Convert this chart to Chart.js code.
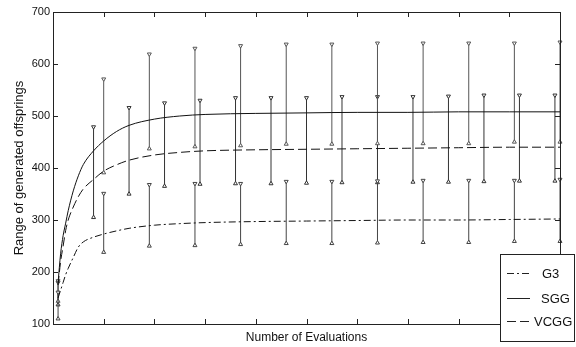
<!DOCTYPE html>
<html>
<head>
<meta charset="utf-8">
<script src="https://cdn.jsdelivr.net/npm/chart.js@4.4.1/dist/chart.umd.min.js"></script>
<style>
    html, body { margin: 0; padding: 0; background: #fff; }
    #wrap { position: relative; width: 576px; height: 347px; }
</style>
</head>
<body>
<div id="wrap"><canvas id="rangeChart"></canvas></div>
<script>
// 平均値の曲線（評価回数ごと）
const evalSteps = [10, 15, 20, 25, 30, 40, 50, 60, 80, 100, 125, 150, 200, 250, 300, 400, 500, 600, 700, 800, 900, 1000];
const g3Mean   = [150, 165, 180, 195, 207, 228, 248, 258, 267, 273, 279, 284, 290, 293, 295, 297, 298, 299, 300, 300, 301, 302];
const sggMean  = [180, 235, 270, 294, 318, 356, 385, 407, 433, 452, 470, 482, 494, 500, 503, 505, 506, 507, 507, 508, 508, 508];
const vcggMean = [175, 220, 250, 280, 300, 325, 345, 360, 378, 394, 406, 415, 425, 430, 433, 435, 436, 437, 438, 439, 440, 440];

// 範囲バー（最小〜最大）
const g3BarX  = [10, 100, 190, 280, 370, 460, 550, 640, 730, 820, 910, 1000];
const g3Max   = [161, 351, 368, 370, 370, 374, 374, 375, 376, 376, 376, 378];
const g3Min   = [110, 238, 250, 251, 253, 255, 255, 256, 257, 257, 259, 259];
const sggBarX = [10, 100, 190, 280, 370, 460, 550, 640, 730, 820, 910, 1000];
const sggMax  = [183, 571, 619, 630, 635, 638, 638, 640, 640, 640, 640, 642];
const sggMin  = [144, 391, 437, 441, 443, 446, 446, 447, 447, 447, 450, 450];
const vcggBarX = [10, 80, 150, 220, 290, 360, 430, 500, 570, 640, 710, 780, 850, 920, 990];
const vcggMax  = [180, 479, 516, 525, 530, 535, 535, 535, 537, 537, 537, 538, 540, 540, 540];
const vcggMin  = [137, 305, 350, 365, 369, 370, 370, 371, 372, 372, 373, 373, 374, 375, 375];

// 軸の目盛り
const yTicks = [100, 200, 300, 400, 500, 600, 700];
const xRange = [0, 1000];
const xStep = 100;

const seriesNames = ['G3', 'SGG', 'VCGG'];
const lineDashes = [[7, 3, 2, 3], [], [9, 4]];

const FONT = 'Liberation Sans, Arial, Helvetica, sans-serif';

// 曲線データ
function curveData(values) {
    return evalSteps.map((x, i) => ({ x: x, y: values[i] }));
}

// バー用データ：下端・上端・区切り(null)
function barData(xs, mins, maxs) {
    const pts = [];
    xs.forEach((x, i) => {
        pts.push({ x: x, y: mins[i], end: 'low' });
        pts.push({ x: x, y: maxs[i], end: 'high' });
        pts.push({ x: x, y: null });
    });
    return pts;
}

function barDataset(data, color) {
    return {
        label: '',
        data: data,
        borderColor: color,
        borderWidth: 1,
        spanGaps: false,
        pointStyle: 'triangle',
        pointRadius: 2.3,
        pointBorderWidth: 1,
        pointBorderColor: color,
        pointBackgroundColor: '#fff',
        pointRotation: ctx => (ctx.raw && ctx.raw.end === 'high') ? 180 : 0,
        clip: false,
        order: 2
    };
}

function curveDataset(name, values, dash) {
    return {
        label: name,
        data: curveData(values),
        borderColor: '#111',
        borderWidth: 1,
        borderDash: dash,
        pointRadius: 0,
        cubicInterpolationMode: 'monotone',
        order: 1
    };
}

// MATLAB風の枠と内向き目盛り
const boxPlugin = {
    id: 'boxPlugin',
    afterDraw(chart) {
        const ctx = chart.ctx;
        const a = chart.chartArea;
        const xs = chart.scales.x;
        const ys = chart.scales.y;
        ctx.save();
        ctx.strokeStyle = '#222';
        ctx.lineWidth = 1;
        ctx.strokeRect(Math.round(a.left) + 0.5, Math.round(a.top) + 0.5,
            Math.round(a.right - a.left), Math.round(a.bottom - a.top));
        ctx.beginPath();
        xs.ticks.forEach(t => {
            if (t.value <= xRange[0] || t.value >= xRange[1]) return;
            const px = Math.round(xs.getPixelForValue(t.value)) + 0.5;
            ctx.moveTo(px, a.bottom); ctx.lineTo(px, a.bottom - 5);
            ctx.moveTo(px, a.top); ctx.lineTo(px, a.top + 5);
        });
        ys.ticks.forEach(t => {
            if (t.value <= yTicks[0] || t.value >= yTicks[yTicks.length - 1]) return;
            const py = Math.round(ys.getPixelForValue(t.value)) + 0.5;
            ctx.moveTo(a.left, py); ctx.lineTo(a.left + 5, py);
            ctx.moveTo(a.right, py); ctx.lineTo(a.right - 5, py);
        });
        ctx.stroke();
        ctx.restore();
    }
};

// 右下の凡例ボックス
const legendBoxPlugin = {
    id: 'legendBox',
    afterDraw(chart) {
        const ctx = chart.ctx;
        const left = 500, top = 254, w = 74, h = 87;
        ctx.save();
        ctx.fillStyle = '#fff';
        ctx.fillRect(left, top, w, h);
        ctx.strokeStyle = '#222';
        ctx.lineWidth = 1;
        ctx.strokeRect(left + 0.5, top + 0.5, w, h);
        const rows = [273, 298, 321];
        const textX = [542, 541, 534];
        ctx.font = '13px ' + FONT;
        ctx.fillStyle = '#111';
        ctx.textBaseline = 'middle';
        seriesNames.forEach((name, i) => {
            ctx.beginPath();
            ctx.setLineDash(lineDashes[i]);
            ctx.moveTo(507, rows[i] + 0.5);
            ctx.lineTo(i === 2 ? 533 : 530, rows[i] + 0.5);
            ctx.stroke();
            ctx.setLineDash([]);
            ctx.fillText(name, textX[i], rows[i] + 1);
        });
        ctx.restore();
    }
};

const ctx = document.getElementById('rangeChart').getContext('2d');
new Chart(ctx, {
    type: 'line',
    data: {
        datasets: [
            curveDataset(seriesNames[0], g3Mean, lineDashes[0]),
            curveDataset(seriesNames[1], sggMean, lineDashes[1]),
            curveDataset(seriesNames[2], vcggMean, lineDashes[2]),
            barDataset(barData(g3BarX, g3Min, g3Max), '#444'),
            barDataset(barData(sggBarX, sggMin, sggMax), '#555'),
            barDataset(barData(vcggBarX, vcggMin, vcggMax), '#333')
        ]
    },
    options: {
        responsive: true,
        maintainAspectRatio: false,
        devicePixelRatio: 1,
        animation: false,
        layout: { padding: { left: 0, right: 16, top: 12, bottom: 0 } },
        plugins: {
            legend: { display: false },
            tooltip: { enabled: false }
        },
        scales: {
            x: {
                type: 'linear',
                min: xRange[0],
                max: xRange[1],
                ticks: { stepSize: xStep, display: false },
                grid: { display: false },
                border: { display: false },
                title: {
                    display: true,
                    text: 'Number of Evaluations',
                    color: '#111',
                    font: { family: FONT, size: 12 },
                    padding: { top: 0, bottom: 2 }
                },
                afterFit: scale => { scale.height = 23; }
            },
            y: {
                min: yTicks[0],
                max: yTicks[yTicks.length - 1],
                afterBuildTicks: scale => { scale.ticks = yTicks.map(v => ({ value: v })); },
                ticks: {
                    color: '#111',
                    font: { family: FONT, size: 11 },
                    padding: 3
                },
                grid: { display: false, drawTicks: false },
                border: { display: false },
                title: {
                    display: true,
                    text: 'Range of generated offsprings',
                    color: '#111',
                    font: { family: FONT, size: 13 },
                    padding: { top: 12, bottom: 0 }
                },
                afterFit: scale => { scale.width = 53; }
            }
        }
    },
    plugins: [boxPlugin, legendBoxPlugin]
});
</script>
</body>
</html>
